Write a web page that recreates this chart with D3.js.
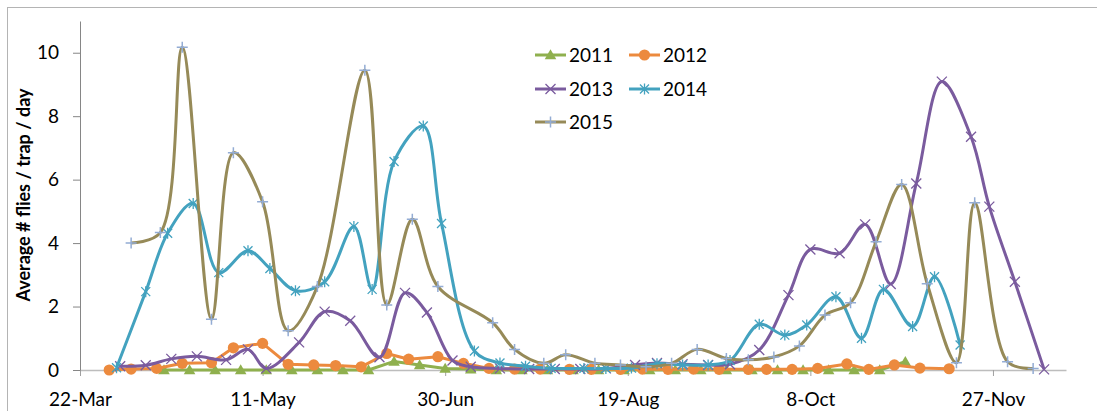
<!DOCTYPE html>
<html>
<head>
<meta charset="utf-8">
<script src="https://cdn.jsdelivr.net/npm/d3@7"></script>
<style>
  body { margin: 0; background: #fff; }
  svg { display: block; font-family: Lato, "Open Sans", sans-serif; }
</style>
</head>
<body>
<div id="chart"></div>
<script>
// tick labels
const tickLabels = ["22-Mar", "11-May", "30-Jun", "19-Aug", "8-Oct", "27-Nov"];
const yTicks = [0, 2, 4, 6, 8, 10];
const seriesNames = ["2011", "2012", "2013", "2014", "2015"];

// 2011
const dates2011 = ["14-Apr", "21-Apr", "28-Apr", "5-May", "12-May", "19-May", "26-May", "2-Jun", "9-Jun", "16-Jun",
  "23-Jun", "30-Jun", "7-Jul", "14-Jul", "21-Jul", "28-Jul", "4-Aug", "11-Aug", "18-Aug", "25-Aug",
  "1-Sep", "8-Sep", "15-Sep", "22-Sep", "29-Sep", "6-Oct", "13-Oct", "20-Oct", "27-Oct", "3-Nov"];
const values2011 = [0, 0, 0, 0, 0, 0, 0, 0, 0, 0.27,
  0.16, 0.05, 0.03, 0, 0, 0, 0, 0, 0, 0,
  0, 0, 0, 0, 0, 0, 0, 0, 0, 0.26];

// 2012
const dates2012 = ["30-Mar", "5-Apr", "12-Apr", "19-Apr", "27-Apr", "3-May", "11-May", "18-May", "25-May", "31-May",
  "7-Jun", "14-Jun", "20-Jun", "28-Jun", "5-Jul", "12-Jul", "19-Jul", "26-Jul", "3-Aug", "9-Aug",
  "17-Aug", "23-Aug", "30-Aug", "6-Sep", "13-Sep", "21-Sep", "26-Sep", "3-Oct", "10-Oct", "18-Oct",
  "24-Oct", "31-Oct", "7-Nov", "15-Nov"];
const values2012 = [0, 0.03, 0.05, 0.21, 0.23, 0.7, 0.84, 0.18, 0.16, 0.14,
  0.1, 0.52, 0.34, 0.42, 0.21, 0.05, 0.03, 0.03, 0.02, 0.02,
  0.02, 0.03, 0.02, 0.03, 0.02, 0.02, 0.02, 0.02, 0.05, 0.19,
  0.02, 0.16, 0.06, 0.04];

// 2013
const dates2013 = ["2-Apr", "9-Apr", "16-Apr", "23-Apr", "1-May", "7-May", "12-May", "21-May", "28-May", "4-Jun",
  "12-Jun", "19-Jun", "25-Jun", "2-Jul", "7-Jul", "15-Jul", "23-Jul", "30-Jul", "6-Aug", "13-Aug",
  "21-Aug", "27-Aug", "3-Sep", "10-Sep", "16-Sep", "24-Sep", "2-Oct", "8-Oct", "16-Oct", "23-Oct",
  "30-Oct", "6-Nov", "13-Nov", "21-Nov", "26-Nov", "3-Dec", "11-Dec"];
const values2013 = [0.12, 0.15, 0.35, 0.43, 0.32, 0.65, 0.05, 0.87, 1.84, 1.55,
  0.4, 2.43, 1.81, 0.3, 0.1, 0.05, 0.03, 0.03, 0.03, 0.05,
  0.16, 0.22, 0.18, 0.16, 0.18, 0.63, 2.36, 3.8, 3.68, 4.59,
  2.71, 5.88, 9.09, 7.35, 5.15, 2.78, 0.02];

// 2014
const dates2014 = ["1-Apr", "9-Apr", "15-Apr", "22-Apr", "29-Apr", "7-May", "13-May", "20-May", "28-May", "5-Jun",
  "10-Jun", "16-Jun", "24-Jun", "29-Jun", "8-Jul", "15-Jul", "22-Jul", "29-Jul", "7-Aug", "13-Aug",
  "20-Aug", "27-Aug", "3-Sep", "10-Sep", "16-Sep", "24-Sep", "1-Oct", "7-Oct", "15-Oct", "22-Oct",
  "28-Oct", "5-Nov", "11-Nov", "18-Nov"];
const values2014 = [0.07, 2.47, 4.31, 5.25, 3.07, 3.76, 3.2, 2.5, 2.78, 4.52,
  2.54, 6.57, 7.69, 4.62, 0.6, 0.22, 0.12, 0.05, 0.05, 0.05,
  0.06, 0.2, 0.16, 0.16, 0.3, 1.44, 1.1, 1.42, 2.31, 1.0,
  2.54, 1.37, 2.94, 0.79];

// 2015
const dates2015 = ["5-Apr", "13-Apr", "19-Apr", "27-Apr", "3-May", "11-May", "18-May", "26-May", "8-Jun", "14-Jun",
  "21-Jun", "28-Jun", "13-Jul", "19-Jul", "27-Jul", "2-Aug", "10-Aug", "17-Aug", "24-Aug", "31-Aug",
  "7-Sep", "15-Sep", "21-Sep", "28-Sep", "5-Oct", "12-Oct", "19-Oct", "26-Oct", "2-Nov", "9-Nov",
  "17-Nov", "22-Nov", "1-Dec", "8-Dec"];
const values2015 = [4.0, 4.33, 10.17, 1.6, 6.85, 5.3, 1.24, 2.63, 9.45, 2.05,
  4.75, 2.63, 1.49, 0.65, 0.21, 0.48, 0.21, 0.16, 0.1, 0.21,
  0.65, 0.36, 0.32, 0.41, 0.76, 1.73, 2.12, 4.04, 5.85, 2.72,
  0.23, 5.27, 0.26, 0.05];

const parseDay = d3.timeParse("%d-%b-%Y");
const day = (s) => parseDay(s + "-2015");

const width = 1097;
const height = 411;

const series = [
  { name: seriesNames[0], dates: dates2011, values: values2011, color: "#8FB04E", marker: "triangle", smooth: false },
  { name: seriesNames[1], dates: dates2012, values: values2012, color: "#EC8A3E", marker: "circle", smooth: false },
  { name: seriesNames[2], dates: dates2013, values: values2013, color: "#7A5B9E", marker: "x", smooth: true },
  { name: seriesNames[3], dates: dates2014, values: values2014, color: "#43A2BF", marker: "star", smooth: true },
  { name: seriesNames[4], dates: dates2015, values: values2015, color: "#968A58", marker: "plus", smooth: true },
];

const svg = d3.select("#chart").append("svg")
  .attr("width", width)
  .attr("height", height);

// chart border
svg.append("rect")
  .attr("x", 7.5).attr("y", 7.5)
  .attr("width", 1200).attr("height", 600)
  .attr("fill", "none")
  .attr("stroke", "#b4b4b4")
  .attr("stroke-width", 1);

const x = d3.scaleTime()
  .domain([day("22-Mar"), day("17-Dec")])
  .range([80, 1066]);

const y = d3.scaleLinear()
  .domain([0, 11])
  .range([370, 21]);

// x axis
const xAxis = svg.append("g")
  .attr("transform", `translate(0,${y(0)})`)
  .call(d3.axisBottom(x)
    .tickValues(tickLabels.map(day))
    .tickFormat(d3.timeFormat("%-d-%b"))
    .tickSize(6)
    .tickSizeOuter(0));
xAxis.select(".domain").attr("stroke", "#bdbdbd").attr("stroke-width", 1.4);
xAxis.selectAll(".tick line").attr("stroke", "#a0a0a0");
xAxis.selectAll("text")
  .attr("y", 36).attr("dy", 0)
  .attr("font-size", 19)
  .attr("font-family", "Lato, sans-serif")
  .attr("fill", "#000");

// y axis
const yAxis = svg.append("g")
  .attr("transform", `translate(${x.range()[0]},0)`)
  .call(d3.axisLeft(y)
    .tickValues(yTicks)
    .tickSize(7)
    .tickPadding(14)
    .tickSizeOuter(0));
yAxis.select(".domain").attr("stroke", "#868686");
yAxis.selectAll(".tick line").attr("stroke", "#868686");
yAxis.selectAll("text")
  .attr("font-size", 19)
  .attr("font-family", "Lato, sans-serif")
  .attr("fill", "#000");

// y axis title
svg.append("text")
  .attr("transform", "translate(30,195) rotate(-90)")
  .attr("text-anchor", "middle")
  .attr("font-size", 18)
  .attr("font-weight", "bold")
  .attr("fill", "#000")
  .text("Average # flies / trap / day");

function drawMarker(g, type, color) {
  if (type === "triangle") {
    g.append("path")
      .attr("d", d3.symbol(d3.symbolTriangle, 58)())
      .attr("transform", "translate(0,1)")
      .attr("fill", color);
  } else if (type === "circle") {
    g.append("circle").attr("r", 5.6).attr("fill", color);
  } else if (type === "x") {
    g.append("path")
      .attr("d", "M-5,-5L5,5M-5,5L5,-5")
      .attr("stroke", color).attr("stroke-width", 1.3).attr("fill", "none");
  } else if (type === "star") {
    g.append("path")
      .attr("d", "M-4.5,-4.5L4.5,4.5M-4.5,4.5L4.5,-4.5M0,-5.5L0,5.5")
      .attr("stroke", color).attr("stroke-width", 1.3).attr("fill", "none");
  } else if (type === "plus") {
    g.append("path")
      .attr("d", "M-5.5,0L5.5,0M0,-5.5L0,5.5")
      .attr("stroke", "#93ACD4").attr("stroke-width", 1.5).attr("fill", "none");
  }
}

const plot = svg.append("g");

series.forEach((s) => {
  const pts = s.dates.map((d, i) => ({ date: day(d), value: s.values[i] }));
  const line = d3.line()
    .x((d) => x(d.date))
    .y((d) => y(d.value))
    .curve(s.smooth ? d3.curveCatmullRom.alpha(0.5) : d3.curveLinear);

  const g = plot.append("g");
  g.append("path")
    .datum(pts)
    .attr("d", line)
    .attr("fill", "none")
    .attr("stroke", s.color)
    .attr("stroke-width", 3)
    .attr("stroke-linejoin", "round");

  g.selectAll("g.marker")
    .data(pts)
    .join("g")
    .attr("class", "marker")
    .attr("transform", (d) => `translate(${x(d.date)},${y(d.value)})`)
    .each(function () { drawMarker(d3.select(this), s.marker, s.color); });
});

// legend
const legend = svg.append("g");
const legendCols = [535, 629];
const legendRows = [55, 89, 122];
series.forEach((s, i) => {
  const lx = legendCols[i % 2];
  const ly = legendRows[Math.floor(i / 2)];
  const item = legend.append("g").attr("transform", `translate(${lx},${ly})`);
  item.append("line")
    .attr("x1", 0).attr("x2", 31)
    .attr("stroke", s.color).attr("stroke-width", 3);
  const m = item.append("g").attr("transform", "translate(15.5,0)");
  drawMarker(m, s.marker, s.color);
  item.append("text")
    .attr("x", 34)
    .attr("dy", "0.36em")
    .attr("font-size", 19)
    .attr("fill", "#000")
    .text(s.name);
});
</script>
</body>
</html>
